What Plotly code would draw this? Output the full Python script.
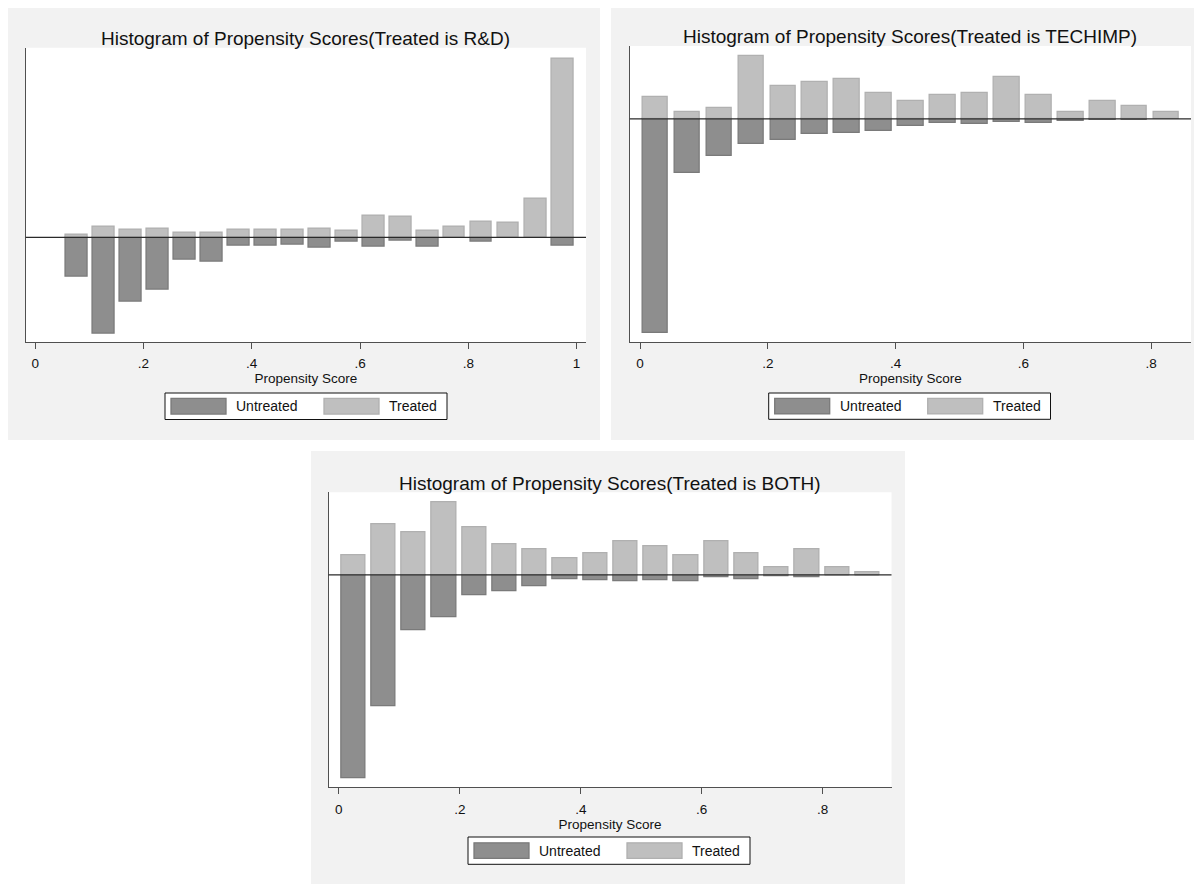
import plotly.graph_objects as go

# the page body has an 8px default margin, so the figure is offset by 8px
OFF = 8
W, H = 1202 - OFF, 884 - OFF

# ---------------- data (bar heights in arbitrary density units) ----------------
# Panel 1: Treated is R&D
rd_bins = [0.077, 0.127, 0.177, 0.226, 0.276, 0.326, 0.376, 0.426, 0.476, 0.525,
           0.575, 0.625, 0.675, 0.725, 0.774, 0.824, 0.874, 0.924, 0.974]
rd_untreated = [119, 288, 192, 158, 67, 74, 24, 24, 21, 32, 14, 27, 11, 27, 2, 14, 1, 1, 24]
rd_treated = [8, 33, 23, 26, 14, 14, 23, 23, 23, 26, 20, 65, 62, 20, 33, 47, 44, 115, 538]

# Panel 2: Treated is TECHIMP
ti_bins = [0.024, 0.074, 0.124, 0.174, 0.224, 0.274, 0.324, 0.374, 0.424, 0.474,
           0.524, 0.574, 0.624, 0.674, 0.724, 0.774, 0.824]
ti_untreated = [643, 161, 112, 74, 62, 46, 43, 37, 22, 13, 16, 10, 13, 7, 4, 4, 0]
ti_treated = [65, 20, 32, 190, 98, 110, 119, 77, 53, 71, 77, 125, 71, 20, 53, 38, 20]

# Panel 3: Treated is BOTH
bo_bins = [0.024, 0.074, 0.124, 0.174, 0.224, 0.274, 0.324, 0.374, 0.424, 0.474,
           0.524, 0.574, 0.624, 0.674, 0.724, 0.774, 0.824, 0.874]
bo_untreated = [610, 395, 167, 127, 62, 50, 35, 13, 16, 19, 16, 19, 6, 13, 4, 7, 0, 0]
bo_treated = [59, 152, 128, 218, 143, 92, 77, 50, 65, 101, 86, 59, 101, 65, 23, 77, 23, 8]

titles = ["Histogram of Propensity Scores(Treated is R&D)",
          "Histogram of Propensity Scores(Treated is TECHIMP)",
          "Histogram of Propensity Scores(Treated is BOTH)"]
x_label = "Propensity Score"
legend_labels = ["Untreated", "Treated"]
ticks_1 = [0, 0.2, 0.4, 0.6, 0.8, 1]
ticks_1_text = ["0", ".2", ".4", ".6", ".8", "1"]
ticks_2 = [0, 0.2, 0.4, 0.6, 0.8]
ticks_2_text = ["0", ".2", ".4", ".6", ".8"]

# ---------------- styling ----------------
UNT_FILL, UNT_LINE = "#8e8e8e", "#7a7a7a"
TRT_FILL, TRT_LINE = "#bfbfbf", "#b0b0b0"
PANEL_BG = "#f2f2f2"
AXIS_COL = "#505050"
FONT = "Liberation Sans, Arial, sans-serif"
BAR_W = 0.04


def fx(px):
    return (px - OFF) / W


def fy(py):
    return 1 - (py - OFF) / H


# panel layout in page pixels
panels = [
    dict(bg=(7, 6, 600, 440), plot=(25.7, 47.7, 586, 342), title_y=38.5,
         xrange=[-0.0175, 1.0174], yrange=[-314, 570],
         legend=(165, 393, 447, 419.5), ticks=(ticks_1, ticks_1_text),
         data=(rd_bins, rd_untreated, rd_treated)),
    dict(bg=(611, 5, 1198, 440), plot=(629.8, 46, 1191, 342), title_y=36.5,
         xrange=[-0.016, 0.8625], yrange=[-670, 219],
         legend=(768.7, 393, 1050.5, 419.3), ticks=(ticks_2, ticks_2_text),
         data=(ti_bins, ti_untreated, ti_treated)),
    dict(bg=(311, 451, 905, 884), plot=(328.5, 492.3, 891.5, 787.3), title_y=483,
         xrange=[-0.017, 0.9137], yrange=[-637, 248],
         legend=(468, 837, 750, 864.3), ticks=(ticks_2, ticks_2_text),
         data=(bo_bins, bo_untreated, bo_treated)),
]

fig = go.Figure()
shapes = []
annotations = []
layout_axes = {}

for i, p in enumerate(panels):
    k = "" if i == 0 else str(i + 1)
    xa, ya = "x" + k, "y" + k
    bins, unt, trt = p["data"]
    fig.add_trace(go.Bar(x=bins, y=[-v for v in unt], width=BAR_W, name=legend_labels[0],
                         marker=dict(color=UNT_FILL, line=dict(color=UNT_LINE, width=1.3)),
                         xaxis=xa, yaxis=ya, showlegend=False))
    fig.add_trace(go.Bar(x=bins, y=trt, width=BAR_W, name=legend_labels[1],
                         marker=dict(color=TRT_FILL, line=dict(color=TRT_LINE, width=1.3)),
                         xaxis=xa, yaxis=ya, showlegend=False))

    L, T, R, B = p["plot"]
    layout_axes["xaxis" + k] = dict(
        domain=[fx(L), fx(R)], range=p["xrange"], anchor=ya,
        tickvals=p["ticks"][0], ticktext=p["ticks"][1],
        ticks="outside", ticklen=6, tickwidth=1, tickcolor=AXIS_COL,
        ticklabelstandoff=3,
        showline=True, linecolor=AXIS_COL, linewidth=1.2,
        showgrid=False, zeroline=False,
        tickfont=dict(family=FONT, size=13.5, color="#111"),
        title=dict(text=x_label, font=dict(family=FONT, size=13.5, color="#111"), standoff=3),
    )
    layout_axes["yaxis" + k] = dict(
        domain=[fy(B), fy(T)], range=p["yrange"], anchor=xa,
        showticklabels=False, ticks="", showgrid=False, zeroline=False,
        showline=True, linecolor=AXIS_COL, linewidth=1.2,
    )

    # panel background and white plot region
    bL, bT, bR, bB = p["bg"]
    shapes.append(dict(type="rect", xref="paper", yref="paper", layer="below",
                       x0=fx(bL), x1=fx(bR), y0=fy(bB), y1=fy(bT),
                       fillcolor=PANEL_BG, line=dict(width=0)))
    shapes.append(dict(type="rect", xref="paper", yref="paper", layer="below",
                       x0=fx(L), x1=fx(R), y0=fy(B), y1=fy(T),
                       fillcolor="white", line=dict(width=0)))
    # zero line
    shapes.append(dict(type="line", xref=xa + " domain", yref=ya, layer="above",
                       x0=0, x1=1, y0=0, y1=0, line=dict(color="#2a2a2a", width=1.2)))

    # title
    annotations.append(dict(text=titles[i], xref="paper", yref="paper",
                            x=fx((L + R) / 2), y=fy(p["title_y"]), showarrow=False,
                            xanchor="center", yanchor="middle",
                            font=dict(family=FONT, size=19, color="#111")))

    # custom legend box
    gL, gT, gR, gB = p["legend"]
    shapes.append(dict(type="rect", xref="paper", yref="paper", layer="above",
                       x0=fx(gL), x1=fx(gR), y0=fy(gB), y1=fy(gT),
                       fillcolor="white", line=dict(color="#111", width=1)))
    cy = (gT + gB) / 2
    for j, (fill, line) in enumerate([(UNT_FILL, UNT_LINE), (TRT_FILL, TRT_LINE)]):
        s0 = gL + 6 + 153 * j
        shapes.append(dict(type="rect", xref="paper", yref="paper", layer="above",
                           x0=fx(s0), x1=fx(s0 + 55), y0=fy(cy + 7.8), y1=fy(cy - 7.8),
                           fillcolor=fill, line=dict(color=line, width=1.3)))
        annotations.append(dict(text=legend_labels[j], xref="paper", yref="paper",
                                x=fx(s0 + 63), y=fy(cy), showarrow=False,
                                xanchor="left", yanchor="middle",
                                font=dict(family=FONT, size=14, color="#111")))

fig.update_layout(
    width=W, height=H, margin=dict(l=0, r=0, t=0, b=0),
    paper_bgcolor="white", plot_bgcolor="white",
    barmode="overlay", bargap=0,
    shapes=shapes, annotations=annotations, showlegend=False,
    font=dict(family=FONT, size=13, color="#111"),
    **layout_axes,
)

fig.write_html("out.html")
